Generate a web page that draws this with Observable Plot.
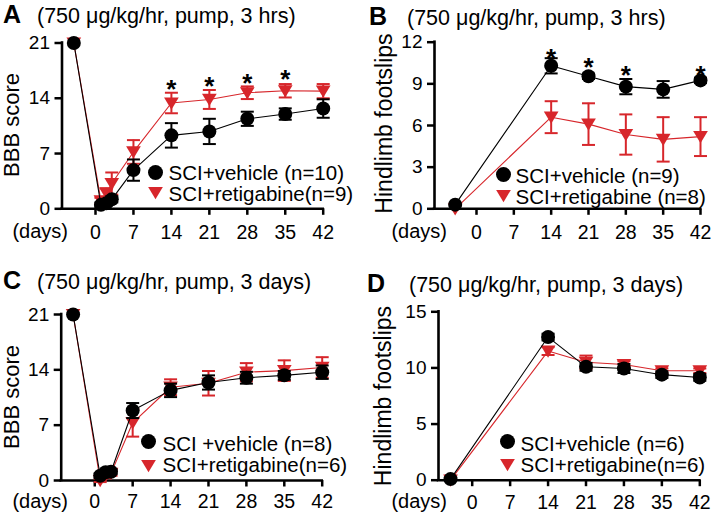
<!DOCTYPE html>
<html><head><meta charset="utf-8">
<script src="https://cdn.jsdelivr.net/npm/d3@7"></script>
<script src="https://cdn.jsdelivr.net/npm/@observablehq/plot@0.6"></script>
<style>
body{margin:0;background:#fff;}
#root{position:relative;width:714px;height:515px;font-family:"Liberation Sans",Arial,Helvetica,sans-serif;}
.panel{position:absolute;}
#overlay{position:absolute;left:0;top:0;pointer-events:none;}
</style></head><body><div id="root"></div>
<script>
// ---------- data ----------
const xTickValues = [0, 7, 14, 21, 28, 35, 42];

// Panel A : BBB score, pump 3 hrs
const aDays = [-4, 1, 2, 3, 7, 14, 21, 28, 35, 42];
const aVehicleMean = [21, 0.5, 0.7, 1.2, 4.9, 9.3, 9.8, 11.4, 12.0, 12.7];
const aVehicleSem = [0, 0.3, 0.3, 0.4, 1.35, 1.55, 1.6, 0.9, 0.72, 1.17];
const aRetigabineMean = [21, 1.0, 2.0, 3.2, 7.2, 13.4, 13.85, 14.7, 14.95, 14.9];
const aRetigabineSem = [0, 0.4, 0.6, 1.4, 1.5, 1.3, 1.2, 0.8, 0.85, 0.9];
const aStarDays = [14, 21, 28, 35];
const aStarY = [16.0, 16.3, 16.7, 17.3];
const aYTicks = [0, 7, 14, 21];

// Panel B : hindlimb footslips, pump 3 hrs
const bDays = [-4, 14, 21, 28, 35, 42];
const bVehicleMean = [0.3, 10.3, 9.55, 8.8, 8.6, 9.25];
const bVehicleSem = [0, 0.55, 0.2, 0.55, 0.6, 0.2];
const bRetigabineMean = [0, 6.6, 6.1, 5.35, 5.0, 5.2];
const bRetigabineSem = [0, 1.15, 1.5, 1.45, 1.6, 1.4];
const bStarDays = [14, 21, 28, 42];
const bStarY = [11.3, 10.7, 10.1, 10.1];
const bYTicks = [0, 3, 6, 9, 12];

// Panel C : BBB score, pump 3 days
const cDays = [-4, 1, 2, 3, 7, 14, 21, 28, 35, 42];
const cVehicleMean = [21, 0.6, 1.05, 1.1, 8.85, 11.4, 12.4, 13.0, 13.3, 13.7];
const cVehicleSem = [0, 0.3, 0.3, 0.3, 0.95, 0.85, 0.9, 0.75, 0.55, 0.85];
const cRetigabineMean = [21, 0, 0.6, 0.9, 7.3, 11.8, 12.3, 13.7, 13.9, 14.3];
const cRetigabineSem = [0, 0.2, 0.3, 0.3, 1.75, 1.0, 1.55, 1.15, 1.3, 1.3];
const cYTicks = [0, 7, 14, 21];

// Panel D : hindlimb footslips, pump 3 days
const dDays = [-4, 14, 21, 28, 35, 42];
const dVehicleMean = [0.1, 12.75, 10.1, 9.95, 9.4, 9.15];
const dVehicleSem = [0, 0.3, 0.35, 0.4, 0.3, 0.3];
const dRetigabineMean = [0, 11.5, 10.5, 10.3, 9.75, 9.75];
const dRetigabineSem = [0, 0.35, 0.6, 0.3, 0.2, 0.2];
const dYTicks = [0, 5, 10, 15];

const panelLetters = ["A", "B", "C", "D"];
const panelTitles = ["(750 μg/kg/hr, pump, 3 hrs)", "(750 μg/kg/hr, pump, 3 hrs)",
                     "(750 μg/kg/hr, pump, 3 days)", "(750 μg/kg/hr, pump, 3 days)"];
const yLabels = ["BBB score", "Hindlimb footslips", "BBB score", "Hindlimb footslips"];
const xUnitLabel = "(days)";
const legendVehicle = ["SCI+vehicle (n=10)", "SCI+vehicle (n=9)", "SCI +vehicle (n=8)", "SCI+vehicle (n=6)"];
const legendRetigabine = ["SCI+retigabine(n=9)", "SCI+retigabine (n=8)", "SCI+retigabine(n=6)", "SCI+retigabine(n=6)"];

// ---------- styles / layout ----------
const RED = "#d7262b";
const FONT = '"Liberation Sans", Arial, Helvetica, sans-serif';

const triDown = {draw(ctx, size) { const r = Math.sqrt(size / Math.PI);
  ctx.moveTo(-r * 1.05, -r * 0.8); ctx.lineTo(r * 1.05, -r * 0.8); ctx.lineTo(0, r * 0.95); ctx.closePath(); }};
const capSym = {draw(ctx, size) { const r = Math.sqrt(size / Math.PI);
  ctx.moveTo(-r, 0); ctx.lineTo(r, 0); }};

const layouts = [
  {left: 0, top: 0, w: 357, h: 258, mL: 61.5, mR: 34.3, mT: 42.5, mB: 49.7, xMin: -6.18, tp: 10,
   leg: {ddx: 93.5, tdx: 106.5, d1: 129.5, t1: 130.5, d2: 149.5, t2: 151.5}},
  {left: 357, top: 0, w: 357, h: 258, mL: 77, mR: 14, mT: 41.7, mB: 49.7, xMin: -7.875, tp: 10,
   leg: {ddx: 69, tdx: 81, d1: 132.3, t1: 134.5, d2: 153.3, t2: 155.5}},
  {left: 0, top: 258, w: 357, h: 257, mL: 60.7, mR: 35.3, mT: 56, mB: 35, xMin: -6.2, tp: 7.5,
   leg: {ddx: 87.3, tdx: 101.3, d1: 127, t1: 130, d2: 151, t2: 150.8}},
  {left: 357, top: 258, w: 357, h: 257, mL: 81, mR: 14.7, mT: 53.3, mB: 35.3, xMin: -6.22, tp: 8,
   leg: {ddx: 69, tdx: 82, d1: 129.7, t1: 132.5, d2: 152.7, t2: 153.3}}
];

const panelData = [
  {days: aDays, vm: aVehicleMean, vs: aVehicleSem, rm: aRetigabineMean, rs: aRetigabineSem, sd: aStarDays, sy: aStarY, yt: aYTicks},
  {days: bDays, vm: bVehicleMean, vs: bVehicleSem, rm: bRetigabineMean, rs: bRetigabineSem, sd: bStarDays, sy: bStarY, yt: bYTicks},
  {days: cDays, vm: cVehicleMean, vs: cVehicleSem, rm: cRetigabineMean, rs: cRetigabineSem, sd: [], sy: [], yt: cYTicks},
  {days: dDays, vm: dVehicleMean, vs: dVehicleSem, rm: dRetigabineMean, rs: dRetigabineSem, sd: [], sy: [], yt: dYTicks}
];

const root = document.getElementById("root");

panelData.forEach((d, i) => {
  const L = layouts[i];
  const veh = d.days.map((day, k) => ({day, mean: d.vm[k], sem: d.vs[k]}));
  const ret = d.days.map((day, k) => ({day, mean: d.rm[k], sem: d.rs[k]}));
  const vehE = veh.filter(r => r.sem > 0), retE = ret.filter(r => r.sem > 0);
  const stars = d.sd.map((day, k) => ({day, y: d.sy[k]}));
  const yMax = d.yt[d.yt.length - 1];
  const errMarks = (rows, color) => [
    Plot.ruleX(rows, {x: "day", y1: r => r.mean - r.sem, y2: r => r.mean + r.sem, stroke: color, strokeWidth: 2}),
    Plot.dot(rows, {x: "day", y: r => r.mean + r.sem, symbol: capSym, r: 6.5, fill: "none", stroke: color, strokeWidth: 2}),
    Plot.dot(rows, {x: "day", y: r => r.mean - r.sem, symbol: capSym, r: 6.5, fill: "none", stroke: color, strokeWidth: 2})
  ];
  const chart = Plot.plot({
    width: L.w, height: L.h,
    marginLeft: L.mL, marginRight: L.mR, marginTop: L.mT, marginBottom: L.mB,
    x: {domain: [L.xMin, 42], label: null},
    y: {domain: [0, yMax], label: null},
    style: {fontFamily: FONT, fontSize: "19px", overflow: "visible", background: "transparent", color: "#000"},
    marks: [
      Plot.ruleY([0], {strokeWidth: 2.6, strokeLinecap: "square"}),
      Plot.ruleX([L.xMin], {strokeWidth: 2.6, strokeLinecap: "square"}),
      Plot.axisX({ticks: xTickValues, tickSize: 6.5, tickPadding: L.tp, strokeWidth: 2.5, fontSize: 19.5, label: null, tickFormat: d3.format("d")}),
      Plot.axisY({ticks: d.yt, tickSize: 7, tickPadding: 5, strokeWidth: 2.5, fontSize: 19, label: null, tickFormat: d3.format("d")}),
      // retigabine (red)
      Plot.line(ret, {x: "day", y: "mean", stroke: RED, strokeWidth: 1.1}),
      ...errMarks(retE, RED),
      Plot.dot(ret, {x: "day", y: "mean", symbol: triDown, r: 7, fill: RED}),
      // vehicle (black)
      Plot.line(veh, {x: "day", y: "mean", stroke: "#000", strokeWidth: 1.1}),
      ...errMarks(vehE, "#000"),
      Plot.dot(veh, {x: "day", y: "mean", r: 7, fill: "#000"}),
      // significance stars
      Plot.text(stars, {x: "day", y: "y", text: () => "*", fontSize: 26, fontWeight: "bold", dy: 7}),
      // legend
      Plot.dot([legendVehicle[i]], {frameAnchor: "top-left", dx: L.leg.ddx, dy: L.leg.d1, r: 7.5, fill: "#000"}),
      Plot.text([legendVehicle[i]], {frameAnchor: "top-left", dx: L.leg.tdx, dy: L.leg.t1, text: t => t, textAnchor: "start", lineAnchor: "middle", fontSize: 20.5}),
      Plot.dot([legendRetigabine[i]], {frameAnchor: "top-left", dx: L.leg.ddx, dy: L.leg.d2, symbol: triDown, r: 7, fill: RED}),
      Plot.text([legendRetigabine[i]], {frameAnchor: "top-left", dx: L.leg.tdx, dy: L.leg.t2, text: t => t, textAnchor: "start", lineAnchor: "middle", fontSize: 20.5})
    ]
  });
  const div = document.createElement("div");
  div.className = "panel";
  div.style.left = L.left + "px";
  div.style.top = L.top + "px";
  div.appendChild(chart);
  root.appendChild(div);
});

// ---------- overlay texts: panel letters, titles, y labels, (days) ----------
const textPos = [
  {lx: 3, tx: 37, base: 23, yl: 18.7, yc: 125, dx: 68, db: 238.3},
  {lx: 369, tx: 407, base: 25, yl: 391.5, yc: 123.5, dx: 447, db: 238.3},
  {lx: 3, tx: 37, base: 289, yl: 18.7, yc: 397, dx: 68, db: 507.5},
  {lx: 367, tx: 409, base: 292, yl: 390.5, yc: 396, dx: 447, db: 507.7}
];
const ov = d3.select("#root").append("svg").attr("id", "overlay").attr("width", 714).attr("height", 515)
  .style("font-family", FONT);
textPos.forEach((p, i) => {
  ov.append("text").attr("x", p.lx).attr("y", p.base).attr("font-size", 25).attr("font-weight", "bold").text(panelLetters[i]);
  ov.append("text").attr("x", p.tx).attr("y", p.base).attr("font-size", 21.5).text(panelTitles[i]);
  ov.append("text").attr("transform", `translate(${p.yl},${p.yc}) rotate(-90)`).attr("text-anchor", "middle")
    .attr("font-size", i % 2 ? 23 : 22).text(yLabels[i]);
  ov.append("text").attr("x", p.dx).attr("y", p.db).attr("text-anchor", "end").attr("font-size", 20).text(xUnitLabel);
});
</script></body></html>
